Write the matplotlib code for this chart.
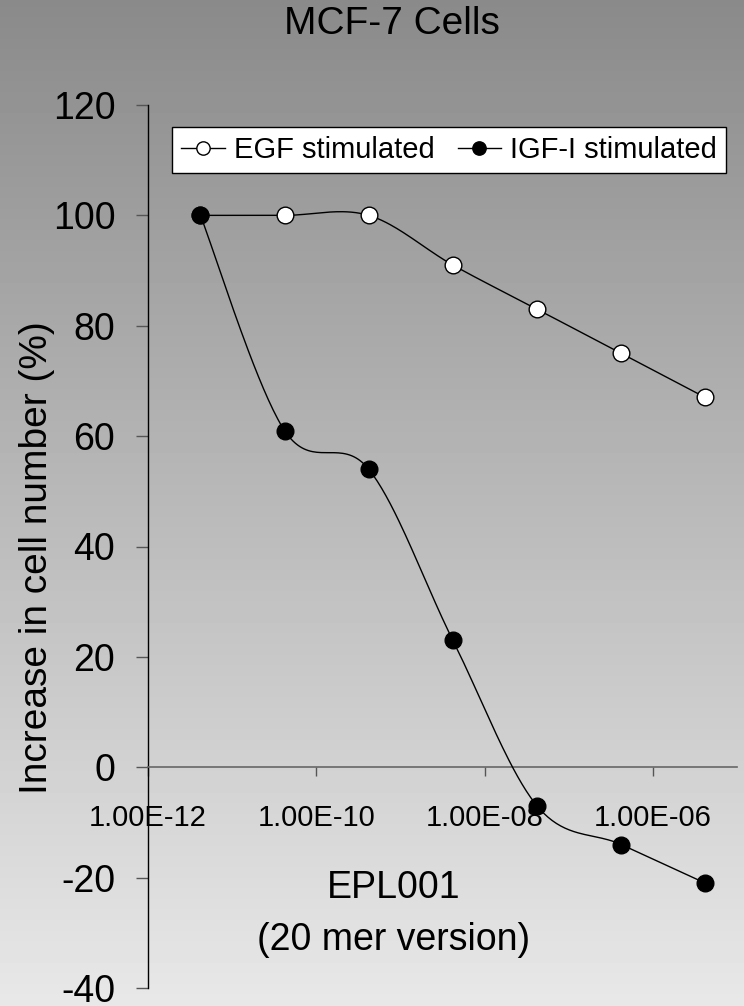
import numpy as np
import matplotlib
matplotlib.use("Agg")
import matplotlib.pyplot as plt

plt.rcParams['font.family'] = ['Liberation Sans', 'DejaVu Sans']
plt.rcParams['axes.unicode_minus'] = False

# ---- data ----
concentration = [4.2e-12, 4.2e-11, 4.2e-10, 4.2e-9, 4.2e-8, 4.2e-7, 4.2e-6]
egf_values = [100, 100, 100, 91, 83, 75, 67]
igf_values = [100, 61, 54, 23, -7, -14, -21]
series_names = ["EGF stimulated", "IGF-I stimulated"]
x_ticks = [1e-12, 1e-10, 1e-8, 1e-6]
x_tick_labels = ["1.00E-12", "1.00E-10", "1.00E-08", "1.00E-06"]
y_ticks = [-40, -20, 0, 20, 40, 60, 80, 100, 120]

W, H, DPI = 744, 1006, 100
fig = plt.figure(figsize=(W / DPI, H / DPI), dpi=DPI)

# background gradient
bg = fig.add_axes([0, 0, 1, 1], zorder=-10)
grad = np.linspace(138, 232, 256)[:, None] / 255.0
bg.imshow(np.repeat(grad, 2, axis=1), cmap='gray', vmin=0, vmax=1,
          aspect='auto', extent=[0, 1, 0, 1], interpolation='bilinear')
bg.set_axis_off()

left = 148 / W
right = 737 / W
top = 1 - 105 / H
bottom = 1 - 988 / H
ax = fig.add_axes([left, bottom, right - left, top - bottom])
ax.set_facecolor('none')
ax.set_xscale('log')
ax.set_xlim(1e-12, 1e-5)
ax.set_ylim(-40, 120)

ax.spines['top'].set_visible(False)
ax.spines['right'].set_visible(False)
ax.spines['left'].set_color('black')
ax.spines['left'].set_linewidth(1.0)
ax.spines['bottom'].set_position(('data', 0))
ax.spines['bottom'].set_color('#666666')
ax.spines['bottom'].set_linewidth(1.2)

ax.set_xticks(x_ticks)
ax.set_xticklabels(x_tick_labels)
ax.xaxis.set_minor_locator(matplotlib.ticker.NullLocator())
ax.set_yticks(y_ticks)
ax.tick_params(axis='x', direction='out', length=6.5, width=1, color='#555555',
               pad=20, labelsize=21, labelcolor='black')
ax.tick_params(axis='y', direction='out', length=8.5, width=1, color='#555555',
               pad=15, labelsize=27, labelcolor='black')


def smooth(xd, yd, n=40):
    P = ax.transData.transform(np.column_stack([xd, yd]))
    pts = []
    for i in range(len(P) - 1):
        p0 = P[i - 1] if i > 0 else P[i]
        p1 = P[i]
        p2 = P[i + 1]
        p3 = P[i + 2] if i + 2 < len(P) else P[i + 1]
        c1 = p1 + (p2 - p0) / 6.0
        c2 = p2 - (p3 - p1) / 6.0
        t = np.linspace(0, 1, n)[:, None]
        seg = ((1 - t) ** 3) * p1 + 3 * ((1 - t) ** 2) * t * c1 + 3 * (1 - t) * (t ** 2) * c2 + (t ** 3) * p2
        pts.append(seg if i == 0 else seg[1:])
    pts = np.vstack(pts)
    d = ax.transData.inverted().transform(pts)
    return d[:, 0], d[:, 1]


sx, sy = smooth(concentration, egf_values)
ax.plot(sx, sy, color='black', lw=1.0, zorder=3)
ax.plot(concentration, egf_values, ls='none', marker='o', ms=12,
        mfc='white', mec='black', mew=1.0, zorder=4)
sx, sy = smooth(concentration, igf_values)
ax.plot(sx, sy, color='black', lw=1.0, zorder=3)
ax.plot(concentration, igf_values, ls='none', marker='o', ms=12,
        mfc='black', mec='black', mew=1.0, zorder=4)

# legend proxies
h1, = ax.plot([], [], color='black', lw=1.0, marker='o', ms=12, mfc='white', mec='black')
h2, = ax.plot([], [], color='black', lw=1.0, marker='o', ms=12, mfc='black', mec='black')
leg = ax.legend([h1, h2], series_names, ncol=2, loc='upper center',
                bbox_to_anchor=(449 / W, 1 - 127 / H), bbox_transform=fig.transFigure,
                fontsize=21, frameon=True, fancybox=False, framealpha=1,
                edgecolor='black', facecolor='white', markerscale=0.8,
                handlelength=1.5, handletextpad=0.3, columnspacing=0.8,
                borderpad=0.3, borderaxespad=0)
leg.get_frame().set_linewidth(1.0)

fig.text(392 / W, 1 - 24 / H, "MCF-7 Cells", ha='center', va='center', fontsize=28)
fig.text(394 / W, 1 - 888 / H, "EPL001", ha='center', va='center', fontsize=27)
fig.text(394 / W, 1 - 940 / H, "(20 mer version)", ha='center', va='center', fontsize=27)
fig.text(37 / W, 1 - 558 / H, "Increase in cell number (%)", ha='center', va='center',
         rotation=90, fontsize=28)

fig.savefig("out.png", dpi=DPI)
